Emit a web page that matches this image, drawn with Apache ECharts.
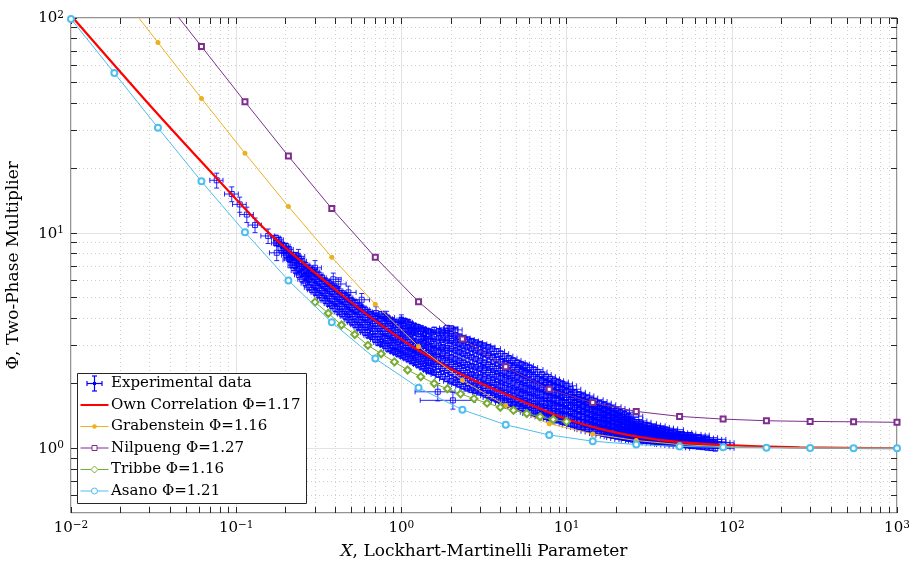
<!DOCTYPE html>
<html>
<head>
<meta charset="utf-8">
<title>Two-phase multiplier vs Lockhart-Martinelli parameter</title>
<script src="https://cdn.jsdelivr.net/npm/echarts@6/dist/echarts.min.js"></script>
<style>
  html, body { margin: 0; padding: 0; background: #fff; }
  #chart { width: 909px; height: 568px; }
</style>
</head>
<body>
<div id="chart"></div>
<script>
// ---- series names ----
const seriesNames = ['Experimental data', 'Own Correlation \u03a6=1.17', 'Grabenstein \u03a6=1.16',
  'Nilpueng \u03a6=1.27', 'Tribbe \u03a6=1.16', 'Asano \u03a6=1.21']

// ---- model curves ----
const modelX = [0.01, 0.0183, 0.0336, 0.0616, 0.113, 0.207, 0.379, 0.695, 1.27, 2.34,
  4.28, 7.85, 14.4, 26.4, 48.3, 88.6, 162, 298, 546, 1000]
const grabensteinPhi = [null, 140, 76.9, 42.3, 23.5, 13.3, 7.72, 4.67, 2.97, 2.07,
  1.58, 1.30, 1.166, 1.086, 1.04, 1.017, 1.008, 1.004, 1.002, 1.0]
const nilpuengPhi = [null, null, 133, 73.8, 40.8, 22.8, 13.0, 7.72, 4.80, 3.22,
  2.39, 1.88, 1.63, 1.483, 1.406, 1.366, 1.342, 1.332, 1.327, 1.32]
const asanoPhi = [99, 55.5, 30.9, 17.4, 10.1, 6.03, 3.85, 2.61, 1.91, 1.51,
  1.285, 1.153, 1.078, 1.04, 1.02, 1.01, 1.005, 1.002, 1.001, 1.0]

const tribbeX = [0.300, 0.361, 0.434, 0.522, 0.627, 0.754, 0.907, 1.09, 1.31, 1.58,
  1.90, 2.28, 2.75, 3.30, 3.97, 4.77, 5.74, 6.91, 8.30, 9.99]
const tribbePhi = [4.78, 4.24, 3.74, 3.38, 3.01, 2.75, 2.52, 2.31, 2.15, 2.00,
  1.89, 1.79, 1.70, 1.62, 1.55, 1.50, 1.45, 1.40, 1.36, 1.33]

const ownX = [0.0103, 0.03, 0.0762, 0.158, 0.489, 0.98, 1.42, 2.26, 3.95, 9.12,
  15.9, 27.9, 48.6, 84.9, 257, 1000]
const ownPhi = [100, 39.3, 18.0, 10.0, 4.81, 3.24, 2.71, 2.22, 1.83, 1.40,
  1.23, 1.126, 1.067, 1.036, 1.01, 1.0]

// ---- experimental data: single points with absolute error bars ----
const expScatX = [0.0762, 0.094, 0.105, 0.116, 0.130, 0.156, 0.176, 0.212, 0.238, 0.274, 0.300,
  0.387, 0.415, 0.477, 0.575, 0.702, 0.814, 1.00, 1.15, 1.36, 1.66, 2.05]
const expScatPhi = [17.6, 15.2, 13.6, 12.2, 10.9, 9.7, 8.1, 7.5, 7.8, 6.4, 6.9,
  6.1, 5.8, 5.3, 4.9, 4.25, 4.05, 3.9, 3.6, 3.4, 1.83, 1.67]
const expScatXErr = [0.007, 0.009, 0.010, 0.011, 0.012, 0.015, 0.017, 0.020, 0.022, 0.026, 0.028,
  0.045, 0.048, 0.055, 0.066, 0.080, 0.095, 0.115, 0.13, 0.155, 0.45, 0.75]
const expScatPhiErr = [1.4, 1.2, 1.1, 1.0, 0.85, 0.75, 0.65, 0.6, 0.6, 0.5, 0.55,
  0.42, 0.40, 0.37, 0.34, 0.30, 0.28, 0.27, 0.25, 0.24, 0.17, 0.15]

// ---- experimental data: dense cloud, one row per X (x error in %, phi error in %) ----
const bandX = [
  0.174, 0.182, 0.191, 0.20, 0.209, 0.219, 0.229, 0.24, 0.251, 0.263,
  0.275, 0.288, 0.302, 0.316, 0.331, 0.347, 0.363, 0.38, 0.398, 0.417,
  0.437, 0.458, 0.479, 0.501, 0.525, 0.55, 0.575, 0.603, 0.631, 0.661,
  0.692, 0.724, 0.759, 0.794, 0.832, 0.871, 0.912, 0.955, 1.00, 1.05,
  1.10, 1.15, 1.20, 1.26, 1.32, 1.38, 1.45, 1.51,
  1.58, 1.68, 1.78, 1.89, 2.00, 2.12, 2.24, 2.37, 2.51, 2.66,
  2.82, 2.99, 3.16, 3.35, 3.55, 3.76, 3.98, 4.22, 4.47, 4.73,
  5.01, 5.31, 5.62, 5.96, 6.31, 6.68, 7.08, 7.5, 7.94, 8.41,
  8.91, 9.44, 10.0, 10.6, 11.2, 11.9, 12.6, 13.3, 14.1, 14.9,
  15.8, 16.8, 17.8, 18.8, 20.0, 21.1, 22.4, 23.7, 25.1, 26.6,
  28.2, 29.9, 31.6, 33.5, 35.5, 37.6, 39.8, 42.2, 44.7, 47.3,
  50.1, 53.1, 56.2, 59.6, 63.1, 66.8, 70.8, 75.0, 79.4]
const bandPhi = [
  [9.0, 9.5], [8.9, 9.3], [8.3, 8.8], [7.9, 8.3, 8.7], [7.6, 8.0, 8.4],
  [7.1, 7.5, 7.9], [6.7, 7.1, 7.5, 7.9], [6.4, 6.8, 7.2, 7.6], [6.1, 6.5, 7.0, 7.4], [5.85, 6.3, 6.75, 7.1],
  [5.6, 6.1, 6.5, 6.9], [5.45, 5.9, 6.3, 6.75], [5.3, 5.7, 6.1, 6.6], [5.15, 5.55, 5.95, 6.4], [5.0, 5.4, 5.8, 6.2],
  [4.85, 5.25, 5.65, 6.0], [4.7, 5.1, 5.5, 5.85], [4.6, 4.95, 5.35, 5.7], [4.45, 4.8, 5.2, 5.55], [4.3, 4.7, 5.05, 5.4],
  [4.2, 4.55, 4.9, 5.25], [4.1, 4.45, 4.8, 5.1], [3.95, 4.3, 4.65, 5.0], [3.85, 4.2, 4.5, 4.85], [3.75, 4.1, 4.4, 4.75],
  [3.65, 3.95, 4.3, 4.6], [3.55, 3.85, 4.2, 4.5], [3.45, 3.75, 4.05, 4.4], [3.35, 3.65, 3.95, 4.3], [3.3, 3.6, 3.9, 4.2],
  [3.2, 3.5, 3.8, 4.1], [3.1, 3.4, 3.7, 4.0], [3.05, 3.3, 3.6, 3.9, 4.2], [3.0, 3.25, 3.5, 3.8, 4.1], [2.9, 3.15, 3.4, 3.7, 4.0],
  [2.85, 3.1, 3.35, 3.6, 3.9], [2.8, 3.0, 3.25, 3.55, 3.85], [2.75, 2.95, 3.2, 3.45, 3.75], [2.7, 2.9, 3.15, 3.4, 3.7, 3.95], [2.65, 2.85, 3.1, 3.35, 3.6, 3.9],
  [2.6, 2.8, 3.0, 3.3, 3.55, 3.85], [2.55, 2.75, 2.95, 3.2, 3.5, 3.75], [2.5, 2.7, 2.9, 3.15, 3.45, 3.7], [2.45, 2.65, 2.85, 3.1, 3.4, 3.65],
  [2.4, 2.6, 2.8, 3.05, 3.3, 3.6], [2.35, 2.55, 2.75, 3.0, 3.25, 3.55], [2.3, 2.5, 2.7, 2.95, 3.2, 3.5], [2.28, 2.48, 2.68, 2.9, 3.15, 3.45],
  [2.25, 2.45, 2.65, 2.85, 3.05, 3.3, 3.55], [2.2, 2.4, 2.6, 2.8, 3.0, 3.25, 3.5],
  [2.15, 2.35, 2.55, 2.75, 2.95, 3.2, 3.45], [2.1, 2.3, 2.5, 2.7, 2.92, 3.17, 3.42, 3.62],
  [2.05, 2.25, 2.45, 2.65, 2.9, 3.15, 3.4, 3.6], [2.02, 2.2, 2.4, 2.6, 2.85, 3.1, 3.35, 3.55],
  [1.98, 2.15, 2.35, 2.55, 2.8, 3.05, 3.3], [1.94, 2.11, 2.3, 2.5, 2.75, 3.0, 3.25],
  [1.9, 2.07, 2.25, 2.45, 2.7, 2.95, 3.2], [1.87, 2.03, 2.21, 2.41, 2.65, 2.9, 3.15],
  [1.85, 2.0, 2.18, 2.38, 2.6, 2.85, 3.1], [1.82, 1.97, 2.14, 2.34, 2.55, 2.8, 3.05],
  [1.8, 1.95, 2.1, 2.3, 2.5, 2.75, 3.0], [1.76, 1.9, 2.06, 2.25, 2.45, 2.7, 2.95],
  [1.72, 1.86, 2.02, 2.2, 2.4, 2.65, 2.9], [1.69, 1.83, 1.98, 2.16, 2.35, 2.58, 2.82],
  [1.66, 1.8, 1.95, 2.12, 2.3, 2.52, 2.75], [1.63, 1.76, 1.91, 2.08, 2.26, 2.47, 2.68],
  [1.6, 1.73, 1.88, 2.05, 2.22, 2.42, 2.62], [1.58, 1.7, 1.85, 2.01, 2.18, 2.37, 2.56],
  [1.56, 1.68, 1.82, 1.97, 2.14, 2.32, 2.5], [1.53, 1.65, 1.79, 1.93, 2.1, 2.28, 2.46],
  [1.5, 1.62, 1.76, 1.9, 2.06, 2.24, 2.42], [1.47, 1.59, 1.73, 1.87, 2.02, 2.2, 2.37],
  [1.45, 1.57, 1.7, 1.84, 1.99, 2.15, 2.32], [1.43, 1.55, 1.67, 1.81, 1.95, 2.1, 2.26],
  [1.42, 1.53, 1.65, 1.78, 1.92, 2.06, 2.2], [1.4, 1.5, 1.62, 1.75, 1.88, 2.02, 2.15],
  [1.38, 1.48, 1.6, 1.72, 1.85, 1.98, 2.1], [1.36, 1.46, 1.58, 1.7, 1.82, 1.95, 2.06],
  [1.35, 1.45, 1.56, 1.67, 1.79, 1.92, 2.03], [1.33, 1.43, 1.53, 1.64, 1.76, 1.88, 1.99],
  [1.32, 1.41, 1.51, 1.62, 1.73, 1.85, 1.95], [1.3, 1.38, 1.48, 1.58, 1.68, 1.78, 1.88],
  [1.28, 1.36, 1.45, 1.54, 1.63, 1.72, 1.82], [1.26, 1.34, 1.43, 1.51, 1.6, 1.69, 1.78],
  [1.25, 1.32, 1.4, 1.48, 1.57, 1.66, 1.75], [1.23, 1.3, 1.38, 1.46, 1.54, 1.63, 1.71],
  [1.22, 1.29, 1.36, 1.44, 1.52, 1.6, 1.68], [1.2, 1.27, 1.34, 1.41, 1.49, 1.57, 1.65],
  [1.19, 1.25, 1.32, 1.39, 1.47, 1.55, 1.62], [1.17, 1.23, 1.3, 1.37, 1.44, 1.52, 1.59],
  [1.16, 1.22, 1.28, 1.35, 1.42, 1.49, 1.56], [1.15, 1.2, 1.26, 1.33, 1.39, 1.46, 1.53],
  [1.14, 1.19, 1.25, 1.31, 1.37, 1.44, 1.5], [1.13, 1.18, 1.23, 1.29, 1.35, 1.41, 1.47],
  [1.12, 1.17, 1.22, 1.27, 1.33, 1.39, 1.44], [1.11, 1.15, 1.2, 1.25, 1.31, 1.36, 1.41],
  [1.1, 1.14, 1.19, 1.24, 1.29, 1.34], [1.095, 1.135, 1.18, 1.22, 1.27, 1.32],
  [1.09, 1.13, 1.17, 1.21, 1.26, 1.3], [1.085, 1.12, 1.16, 1.2, 1.24, 1.28],
  [1.08, 1.11, 1.15, 1.19, 1.23, 1.27], [1.075, 1.105, 1.14, 1.18, 1.22, 1.25],
  [1.07, 1.1, 1.13, 1.17, 1.21, 1.24], [1.065, 1.095, 1.125, 1.16, 1.2, 1.23],
  [1.06, 1.09, 1.12, 1.15, 1.19, 1.22], [1.055, 1.085, 1.115, 1.145, 1.18],
  [1.05, 1.08, 1.11, 1.14, 1.18], [1.045, 1.075, 1.105, 1.135, 1.165],
  [1.04, 1.07, 1.1, 1.13, 1.16], [1.035, 1.065, 1.095, 1.125, 1.15],
  [1.03, 1.06, 1.09, 1.12, 1.15], [1.025, 1.055, 1.085, 1.115],
  [1.02, 1.05, 1.08, 1.12], [1.015, 1.045, 1.075, 1.1],
  [1.01, 1.04, 1.07, 1.1], [1.005, 1.035, 1.065], [1.0, 1.03, 1.06]
]
const bandXErr = [
  6, 6, 6, 6, 6, 6, 6, 6, 6, 6, 6, 6, 6, 6, 6, 6, 6, 6, 6, 6, 6, 6, 6, 6,
  6, 6, 6, 6, 6, 6, 6, 6, 6, 6, 6, 6, 6, 6, 6, 6, 6, 6, 6, 6, 6, 6, 6, 6,
  10, 10, 10, 10, 10, 10, 10, 10, 10, 10, 10, 10, 10, 10,
  12, 12, 12, 12, 12, 12, 12, 12, 12, 12,
  14, 14, 14, 14, 14, 14,
  15, 15, 15, 15, 16, 16, 16, 16, 18, 18, 18, 18, 20, 20, 20, 20,
  22, 22, 22, 22, 24, 24, 25, 25, 25, 25, 28, 28, 28, 28,
  30, 30, 30, 30, 30, 30, 30, 30, 30]
const bandPhiErrPct = 3

// ---- axes ----
const xMajorTicks = [0.01, 0.1, 1, 10, 100, 1000]
const yMajorTicks = [1, 10, 100]
const minorSteps = [2, 3, 4, 5, 6, 7, 8, 9]

const FONT = 'DejaVu Serif'
const AXIS_COLOR = '#262626'
const MAJOR_GRID = '#e3e3e3'
const MINOR_GRID = '#cdcdcd'
const EXP_COLOR = 'rgba(0,0,255,0.85)'
const COLORS = ['#0000ff', '#ff0000', '#EDB120', '#7E2F8E', '#77AC30', '#4DBEEE']

const X_MIN = 0.01
const X_MAX = 1000
const Y_MIN = 0.5
const Y_MAX = 100

const crisp = v => Math.round(v - 0.5) + 0.5

// experimental rows -> [x, phi, xLo, xHi, phiLo, phiHi]
const expData = []
expScatX.forEach((x, i) => {
  const p = expScatPhi[i]
  expData.push([x, p, x - expScatXErr[i], x + expScatXErr[i], p - expScatPhiErr[i], p + expScatPhiErr[i]])
})
bandX.forEach((x, i) => {
  bandPhi[i].forEach(p => {
    const dx = x * bandXErr[i] / 100
    const dp = p * bandPhiErrPct / 100
    expData.push([x, p, x - dx, x + dx, p - dp, p + dp])
  })
})

// tick + minor grid items: [xValue, yValue, isYAxis, isMajor]
const gridData = []
xMajorTicks.forEach(v => gridData.push([v, 1, 0, 1]))
yMajorTicks.forEach(v => gridData.push([1, v, 1, 1]))
xMajorTicks.slice(0, -1).forEach(d => minorSteps.forEach(m => gridData.push([m * d, 1, 0, 0])))
;[0.1, 1, 10].forEach(d => minorSteps.forEach(m => {
  const v = m * d
  if (v > Y_MIN + 1e-9 && v < Y_MAX) gridData.push([1, v, 1, 0])
}))

const renderGrid = (params, api) => {
  const cs = params.coordSys
  const isY = api.value(2) === 1
  const major = api.value(3) === 1
  const tick = 6
  const tickStyle = { stroke: AXIS_COLOR, lineWidth: 1 }
  const dotStyle = { stroke: MINOR_GRID, lineWidth: 1, lineDash: [1, 3] }
  const children = []
  if (!isY) {
    const x = crisp(api.coord([api.value(0), 1])[0])
    const y0 = cs.y
    const y1 = cs.y + cs.height
    if (!major) children.push({ type: 'line', shape: { x1: x, y1: y0, x2: x, y2: y1 }, style: dotStyle })
    children.push({ type: 'line', shape: { x1: x, y1: y1, x2: x, y2: y1 - tick }, style: tickStyle })
    children.push({ type: 'line', shape: { x1: x, y1: y0, x2: x, y2: y0 + tick }, style: tickStyle })
  } else {
    const y = crisp(api.coord([1, api.value(1)])[1])
    const x0 = cs.x
    const x1 = cs.x + cs.width
    if (!major) children.push({ type: 'line', shape: { x1: x0, y1: y, x2: x1, y2: y }, style: dotStyle })
    children.push({ type: 'line', shape: { x1: x0, y1: y, x2: x0 + tick, y2: y }, style: tickStyle })
    children.push({ type: 'line', shape: { x1: x1, y1: y, x2: x1 - tick, y2: y }, style: tickStyle })
  }
  return { type: 'group', children }
}

const errorBarShapes = (cx, cy, xl, xh, yl, yh, style, z) => {
  const cap = 2.5
  const s = 2.5
  const line = (x1, y1, x2, y2) => ({ type: 'line', z, shape: { x1, y1, x2, y2 }, style })
  return [
    line(xl, cy, xh, cy),
    line(xl, cy - cap, xl, cy + cap),
    line(xh, cy - cap, xh, cy + cap),
    line(cx, yl, cx, yh),
    line(cx - cap, yl, cx + cap, yl),
    line(cx - cap, yh, cx + cap, yh),
    { type: 'rect', z, shape: { x: cx - s, y: cy - s, width: 2 * s, height: 2 * s }, style }
  ]
}

const renderErrorBar = (params, api) => {
  const x = api.value(0)
  const p = api.value(1)
  const c = api.coord([x, p])
  const xl = api.coord([api.value(2), p])[0]
  const xh = api.coord([api.value(3), p])[0]
  const yl = api.coord([x, api.value(4)])[1]
  const yh = api.coord([x, api.value(5)])[1]
  return {
    type: 'group',
    children: errorBarShapes(c[0], c[1], xl, xh, yl, yh, { stroke: EXP_COLOR, lineWidth: 1, fill: null })
  }
}

const pairs = (xs, ys) => xs.map((x, i) => [x, ys[i]]).filter(d => d[1] != null)

const powerLabel = v => {
  const k = Math.round(Math.log10(v))
  if (Math.abs(Math.log10(v) - k) > 1e-6) return ''
  return '{b|10}{s|' + String(k).replace('-', '\u2212') + '}'
}
const labelRich = {
  b: { fontFamily: FONT, fontSize: 15, color: '#000', lineHeight: 16, verticalAlign: 'bottom' },
  s: { fontFamily: FONT, fontSize: 10.5, color: '#000', lineHeight: 12, verticalAlign: 'top', padding: [0, 0, 6, 0] }
}

const modelLine = (name, data, color, symbol, size, z) => ({
  type: 'line',
  name,
  data,
  z,
  symbol,
  symbolSize: size,
  showSymbol: true,
  clip: true,
  lineStyle: { color, width: 1 },
  itemStyle: { color, borderWidth: 1 },
  emphasis: { disabled: true },
  animation: false
})

// ---- legend drawn as graphic (box, icons, text), kept above every series ----
const LZ = 100
const LEG = { x: 77.5, y: 373.5, w: 229, h: 130, row0: 383.5, rowGap: 21.5, lineX0: 80.5, lineX1: 108.5, textX: 111 }
const legendMarker = (kind, cx, cy, color) => {
  const stroke = { stroke: color, lineWidth: 1, fill: '#fff' }
  if (kind === 'dot') return { type: 'circle', z: LZ + 2, shape: { cx, cy, r: 2.3 }, style: { fill: color } }
  if (kind === 'square') return { type: 'rect', z: LZ + 2, shape: { x: cx - 2.5, y: cy - 2.5, width: 5, height: 5 }, style: stroke }
  if (kind === 'diamond') return { type: 'polygon', z: LZ + 2, shape: { points: [[cx, cy - 3.5], [cx + 3.5, cy], [cx, cy + 3.5], [cx - 3.5, cy]] }, style: stroke }
  if (kind === 'circle') return { type: 'circle', z: LZ + 2, shape: { cx, cy, r: 3 }, style: stroke }
  return null
}
const legendKinds = ['exp', 'none', 'dot', 'square', 'diamond', 'circle']
const legendChildren = [{
  type: 'rect', z: LZ, shape: { x: LEG.x, y: LEG.y, width: LEG.w, height: LEG.h },
  style: { fill: '#fff', stroke: AXIS_COLOR, lineWidth: 1 }
}]
seriesNames.forEach((name, i) => {
  const cy = LEG.row0 + i * LEG.rowGap
  const cx = (LEG.lineX0 + LEG.lineX1) / 2
  const color = COLORS[i]
  if (legendKinds[i] === 'exp') {
    errorBarShapes(cx, cy, cx - 7.5, cx + 7.5, cy + 7.5, cy - 7.5, { stroke: color, lineWidth: 1.2, fill: null }, LZ + 1)
      .slice(0, 6).forEach(el => legendChildren.push(el))
    legendChildren.push({ type: 'rect', z: LZ + 2, shape: { x: cx - 1.5, y: cy - 1.5, width: 3, height: 3 }, style: { fill: color } })
  } else {
    legendChildren.push({
      type: 'line', z: LZ + 1, shape: { x1: LEG.lineX0, y1: cy, x2: LEG.lineX1, y2: cy },
      style: { stroke: color, lineWidth: i === 1 ? 2 : 1 }
    })
    const m = legendMarker(legendKinds[i], cx, cy, color)
    if (m) legendChildren.push(m)
  }
  legendChildren.push({
    type: 'text', z: LZ + 1, x: LEG.textX, y: cy,
    style: { text: name, fontFamily: FONT, fontSize: 15, fill: '#000', verticalAlign: 'middle', align: 'left' }
  })
})

const chart = echarts.init(document.getElementById('chart'))

chart.setOption({
  animation: false,
  backgroundColor: '#fff',
  grid: {
    left: 71, right: 12, top: 18, bottom: 55,
    containLabel: false,
    outerBoundsMode: 'none',
    show: true, borderColor: AXIS_COLOR, borderWidth: 1, backgroundColor: 'transparent'
  },
  xAxis: {
    type: 'log', logBase: 10, min: X_MIN, max: X_MAX,
    axisLine: { show: false },
    axisTick: { show: false },
    splitLine: { show: true, lineStyle: { color: MAJOR_GRID, width: 1 } },
    axisLabel: { margin: 7, formatter: powerLabel, rich: labelRich },
    name: '{i|X}{n|, Lockhart-Martinelli Parameter}',
    nameLocation: 'middle',
    nameGap: 30,
    nameTextStyle: {
      rich: {
        i: { fontFamily: FONT, fontSize: 17, fontStyle: 'italic', color: '#000' },
        n: { fontFamily: FONT, fontSize: 17, color: '#000' }
      }
    }
  },
  yAxis: {
    type: 'log', logBase: 10, min: Y_MIN, max: Y_MAX,
    axisLine: { show: false },
    axisTick: { show: false },
    splitLine: { show: true, lineStyle: { color: MAJOR_GRID, width: 1 } },
    axisLabel: { margin: 7, formatter: powerLabel, rich: labelRich },
    name: '\u03a6, Two-Phase Multiplier',
    nameLocation: 'middle',
    nameGap: 49,
    nameTextStyle: { fontFamily: FONT, fontSize: 17, color: '#000' }
  },
  graphic: {
    elements: [{ type: 'group', z: LZ, silent: true, children: legendChildren }]
  },
  series: [
    {
      type: 'custom', name: 'grid', data: gridData, z: 1, silent: true,
      encode: { x: 0, y: 1 }, renderItem: renderGrid, animation: false
    },
    {
      type: 'custom', name: seriesNames[0], data: expData, z: 2, silent: true,
      encode: { x: 0, y: 1 }, renderItem: renderErrorBar, animation: false
    },
    {
      type: 'line', name: seriesNames[1], data: pairs(ownX, ownPhi),
      z: 10, symbol: 'none', smooth: 0.25, clip: true,
      lineStyle: { color: COLORS[1], width: 2.2 }, itemStyle: { color: COLORS[1] },
      emphasis: { disabled: true }, animation: false
    },
    modelLine(seriesNames[2], pairs(modelX, grabensteinPhi), COLORS[2], 'circle', 5, 11),
    modelLine(seriesNames[3], pairs(modelX, nilpuengPhi), COLORS[3], 'emptyRect', 5, 12),
    modelLine(seriesNames[4], pairs(tribbeX, tribbePhi), COLORS[4], 'emptyDiamond', 7, 13),
    modelLine(seriesNames[5], pairs(modelX, asanoPhi), COLORS[5], 'emptyCircle', 6, 14)
  ]
})
</script>
</body>
</html>
